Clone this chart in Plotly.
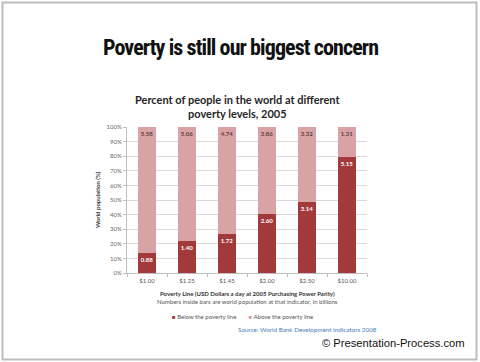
import plotly.graph_objects as go

categories = ["$1.00", "$1.25", "$1.45", "$2.00", "$2.50", "$10.00"]
below_line = [0.88, 1.40, 1.72, 2.60, 3.14, 5.15]
above_line = [5.58, 5.06, 4.74, 3.86, 3.32, 1.31]
y_ticks = [0, 10, 20, 30, 40, 50, 60, 70, 80, 90, 100]

W, H = 480, 362
L, R, T, B = 127, 367, 127, 273
DARK, PINK = "#a23a3b", "#d9a2a5"


def px(x):
    return (x - L) / (R - L)


def py(y):
    return (B - y) / (B - T)


fig = go.Figure()
fig.add_trace(go.Bar(
    x=categories, y=below_line, name="Below the poverty line",
    marker=dict(color=DARK, line=dict(width=0)),
    text=[f"{v:.2f}" for v in below_line], textposition="inside",
    insidetextanchor="end", textangle=0, constraintext="none",
    textfont=dict(family="Lato", size=6, color="white", weight="bold"),
))
fig.add_trace(go.Bar(
    x=categories, y=above_line, name="Above the poverty line",
    marker=dict(color=PINK, line=dict(width=0)),
    text=[f"{v:.2f}" for v in above_line], textposition="inside",
    insidetextanchor="end", textangle=0, constraintext="none",
    textfont=dict(family="Lato", size=6, color="#5e4344", weight="bold"),
))

legend_text = (f"<span style='color:{DARK}'>■</span> Below the poverty line"
               f"        <span style='color:{PINK}'>■</span> Above the poverty line")

annotations = [
    dict(text="<span style='letter-spacing:-0.9px'><b>Poverty is still our biggest concern</b></span>",
         x=px(240), y=py(47), font=dict(family="Roboto Condensed", size=22, color="#111111")),
    dict(text="<b>Percent of people in the world at different<br>poverty levels, 2005</b>",
         x=px(237), y=py(107), font=dict(family="Lato", size=11, color="#262626")),
    dict(text="<b>World population (%)</b>", textangle=-90,
         x=px(97), y=py(200), font=dict(family="Lato", size=6, color="#404040")),
    dict(text="<b>Poverty Line (USD Dollars a day at 2005 Purchasing Power Parity)</b>",
         x=px(247), y=py(293), font=dict(family="Lato", size=6, color="#333333")),
    dict(text="Numbers inside bars are world population at that indicator, in billions",
         x=px(247), y=py(301), font=dict(family="Lato", size=6, color="#555555")),
    dict(text=legend_text,
         x=px(242), y=py(316), font=dict(family="Lato", size=6, color="#555555")),
    dict(text="Source: World Bank Development Indicators 2008",
         x=px(307), y=py(329), font=dict(family="Lato", size=6.3, color="#4a7ebb")),
    dict(text="© Presentation-Process.com",
         x=px(393), y=py(343), font=dict(family="Liberation Sans", size=11.2, color="#111111")),
]
for a in annotations:
    a.update(xref="paper", yref="paper", showarrow=False, xanchor="center", yanchor="middle")

fig.update_layout(
    width=W, height=H,
    margin=dict(l=L, r=W - R, t=T, b=H - B, pad=0),
    paper_bgcolor="white", plot_bgcolor="white",
    barmode="stack", barnorm="percent", bargap=0.57,
    font=dict(family="Lato", size=6, color="#666666"),
    annotations=annotations,
    showlegend=False,
    shapes=[dict(type="rect", xref="paper", yref="paper",
                 x0=px(2.5), x1=px(476.5), y0=py(359.5), y1=py(2.5),
                 line=dict(color="#bdbdbd", width=2), fillcolor="rgba(0,0,0,0)", layer="below")],
)
fig.update_xaxes(showline=True, linecolor="#bfbfbf", linewidth=1,
                 ticks="outside", tickson="boundaries", ticklen=3, tickcolor="#bfbfbf",
                 ticklabelstandoff=2,
                 tickfont=dict(family="Lato", size=6, color="#555555"), showgrid=False,
                 fixedrange=True, automargin=False)
fig.update_yaxes(range=[0, 100], tickvals=y_ticks, ticktext=[f"{v}%" for v in y_ticks],
                 showline=True, linecolor="#bfbfbf", linewidth=1,
                 ticks="outside", ticklen=3, tickcolor="#bfbfbf",
                 showgrid=True, gridcolor="#d9d9d9", gridwidth=1, zeroline=False,
                 fixedrange=True,
                 tickfont=dict(family="Lato", size=6, color="#666666"), automargin=False)

fig.write_html("out.html", config={"displayModeBar": False},
               post_script="document.body.style.margin='0';")
